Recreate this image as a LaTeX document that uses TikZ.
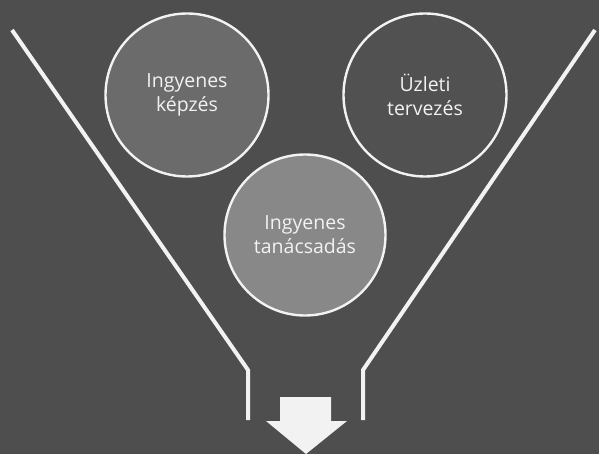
\documentclass[tikz,border=0pt]{standalone}
\usepackage{fontspec}
\setmainfont{Open Sans}
\definecolor{board}{HTML}{4E4E4E}
\definecolor{chalk}{HTML}{F2F2F2}
\definecolor{fillleft}{HTML}{6B6B6B}
\definecolor{fillright}{HTML}{515151}
\definecolor{fillmid}{HTML}{888888}

\begin{document}
\begin{tikzpicture}[
  x=1pt, y=-1pt,
  font=\fontsize{19.5}{24}\selectfont,
  offer/.style={circle, draw=chalk, line width=2.4pt, text=chalk,
    align=center, minimum size=163pt, inner sep=0pt},
  funnel/.style={draw=chalk, line width=4pt, line cap=butt}
]
\fill[board] (0,0) rectangle (599,454);
\useasboundingbox (0,0) rectangle (599,454);

\node[offer, fill=fillleft] (kepzes) at (187,95) {Ingyenes\\képzés};
\node[offer, fill=fillright] (tervezes) at (425,95) {Üzleti\\tervezés};
\node[offer, fill=fillmid, minimum size=161pt] (tanacs) at (305,235) {Ingyenes\\tanácsadás};

% funnel walls
\coordinate (ltop) at (12,30);
\coordinate (lbend) at (248,370);
\coordinate (lend) at (248,420);
\coordinate (rtop) at (595,30);
\coordinate (rbend) at (363,370);
\coordinate (rend) at (363,420);
\draw[funnel] (ltop) -- (lbend) -- (lend);
\draw[funnel] (rtop) -- (rbend) -- (rend);

% outlet arrow
\fill[chalk] (280,397) -- (331,397) -- (331,421) -- (347,421)
  -- (306,454) -- (266,421) -- (280,421) -- cycle;
\end{tikzpicture}
\end{document}
